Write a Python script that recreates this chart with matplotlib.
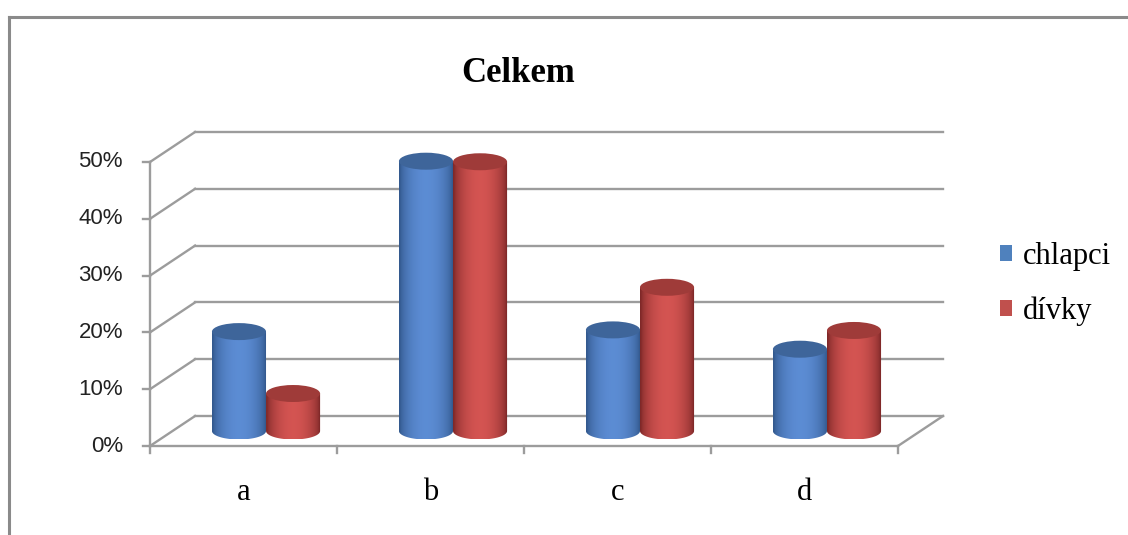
import matplotlib
matplotlib.use("Agg")
import matplotlib.pyplot as plt
import numpy as np
from matplotlib.patches import Ellipse, PathPatch, Patch
from matplotlib.path import Path
from matplotlib.lines import Line2D

categories = ["a", "b", "c", "d"]
series_names = ["chlapci", "dívky"]
chlapci = [17.5, 47.5, 17.8, 14.4]
divky = [6.6, 47.4, 25.3, 17.7]
y_ticks = [0, 10, 20, 30, 40, 50]
y_labels = ["0%", "10%", "20%", "30%", "40%", "50%"]

W, H = 1128, 535
fig = plt.figure(figsize=(W / 100, H / 100), dpi=100, facecolor="white")

# plot area: front plane from px 150..897 (x), 446..162 (y); back wall offset (+45, -30) px
ax = fig.add_axes([150 / W, (H - 446) / H, 793 / W, 314 / H])
px_x = 747 / 4.0      # px per category
px_y = 284 / 50.0     # px per percent
dx = 45 / px_x
dy = 30 / px_y
ax.set_xlim(-0.5, 3.5 + dx)
ax.set_ylim(0, 50 + dy)
ax.axis("off")

grid_c = "#9c9c9c"
lw = 1.7

# walls and gridlines
for v in y_ticks:
    ax.plot([-0.5, -0.5 + dx], [v, v + dy], color=grid_c, lw=lw, clip_on=False, zorder=1)
    ax.plot([-0.5 + dx, 3.5 + dx], [v + dy, v + dy], color=grid_c, lw=lw, clip_on=False, zorder=1)
ax.plot([3.5, 3.5 + dx], [0, dy], color=grid_c, lw=lw, clip_on=False, zorder=1)
ax.plot([-0.5, 3.5], [0, 0], color=grid_c, lw=lw, clip_on=False, zorder=5)
ax.plot([-0.5, -0.5], [0, 50], color=grid_c, lw=lw, clip_on=False, zorder=5)

tick_y = 7 / px_y
tick_x = 7 / px_x
for v, lab in zip(y_ticks, y_labels):
    ax.plot([-0.5 - tick_x, -0.5], [v, v], color=grid_c, lw=lw, clip_on=False)
    ax.text(-0.5 - 27 / px_x, v, lab, ha="right", va="center", fontsize=16,
            family="Liberation Sans", color="#222222")
for b in np.arange(-0.5, 4.0, 1.0):
    ax.plot([b, b], [0, -tick_y], color=grid_c, lw=lw, clip_on=False)
for i, c in enumerate(categories):
    ax.text(i, -46 / px_y, c, ha="center", va="center", fontsize=22,
            family="Liberation Serif", color="black")

# cylinders
bar_w = 54 / px_x
ry = 8.5 / px_y
prof = np.linspace(0, 1, 200)
shade = np.sin(np.pi * np.clip(prof * 1.05 - 0.02, 0, 1)) ** 0.6

styles = [
    {"edge": np.array([0.20, 0.35, 0.56]), "light": np.array([0.36, 0.55, 0.83]), "top": "#3e659a"},
    {"edge": np.array([0.50, 0.16, 0.16]), "light": np.array([0.83, 0.33, 0.32]), "top": "#9f3b39"},
]

def cylinder(cx, base, v, st):
    xl, xr = cx - bar_w / 2, cx + bar_w / 2
    yt = base + v
    t = np.linspace(np.pi, 2 * np.pi, 60)
    ex = cx + bar_w / 2 * np.cos(t)
    ey = base + ry * np.sin(t)
    verts = [(xl, yt)] + list(zip(ex, ey)) + [(xr, yt), (xl, yt)]
    codes = [Path.MOVETO] + [Path.LINETO] * (len(verts) - 2) + [Path.CLOSEPOLY]
    body = PathPatch(Path(verts, codes), facecolor="none", edgecolor="none", zorder=3)
    ax.add_patch(body)
    grad = st["edge"][None, :] + (st["light"] - st["edge"])[None, :] * shade[:, None]
    im = ax.imshow(grad[None, :, :], extent=[xl, xr, base - ry, yt], aspect="auto",
                   zorder=3, interpolation="bilinear")
    im.set_clip_path(body)
    ax.add_patch(Ellipse((cx, yt), bar_w, 2 * ry, facecolor=st["top"], edgecolor="none", zorder=4))

for i in range(len(categories)):
    cx0 = i + dx / 2
    base = dy / 2
    cylinder(cx0 - bar_w / 2, base, chlapci[i], styles[0])
    cylinder(cx0 + bar_w / 2, base, divky[i], styles[1])

ax.set_xlim(-0.5, 3.5 + dx)
ax.set_ylim(0, 50 + dy)

# title
fig.text(518 / W, 1 - 73 / H, "Celkem", ha="center", va="center", fontsize=25,
         fontweight="bold", family="Liberation Serif")

# legend
handles = [Patch(facecolor="#4f81bd", edgecolor="none"), Patch(facecolor="#c0504d", edgecolor="none")]
fig.legend(handles, series_names, loc="center left", bbox_to_anchor=(972 / W, 1 - 284 / H),
           frameon=False, prop={"family": "Liberation Serif", "size": 22},
           handlelength=0.42, handleheight=0.42, handletextpad=0.35, labelspacing=0.85)

# chart frame
fig.add_artist(Line2D([8.5 / W, 1.0], [1 - 16.5 / H, 1 - 16.5 / H], color="#8a8a8a", lw=2.2,
                      transform=fig.transFigure))
fig.add_artist(Line2D([8.5 / W, 8.5 / W], [0, 1 - 16.5 / H], color="#8a8a8a", lw=2.2,
                      transform=fig.transFigure))

fig.savefig("out.png", dpi=100, facecolor="white")
